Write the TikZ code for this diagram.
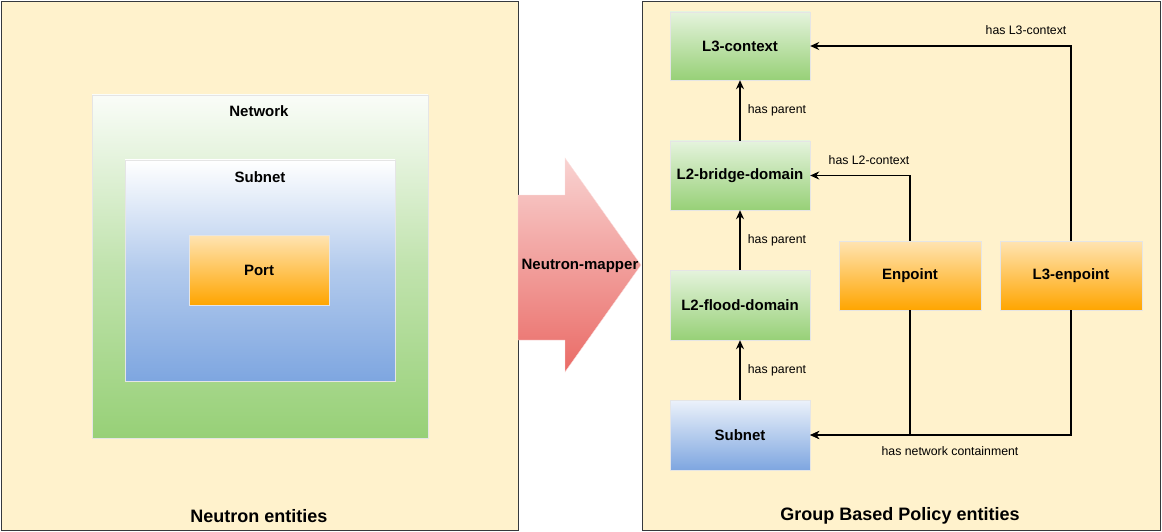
\documentclass[tikz,border=0pt]{standalone}
\usepackage{fontspec}
\setmainfont{Liberation Sans}
\usetikzlibrary{arrows.meta}
\definecolor{panel}{HTML}{FFF2CC}
\definecolor{pborder}{HTML}{36393D}
\definecolor{gr}{HTML}{97D077}
\definecolor{bl}{HTML}{7EA6E0}
\definecolor{org}{HTML}{FFA500}
\definecolor{rd}{HTML}{EA6B66}
\begin{document}
\begin{tikzpicture}[x=1pt,y=-1pt,
  panelbox/.style={draw=pborder,fill=panel,line width=0.8pt},
  greenbox/.style={draw=white!80!gray,top color=white!75!gr,bottom color=gr,font=\bfseries\fontsize{15}{17}\selectfont},
  bluebox/.style={draw=white!80!gray,top color=white!85!bl,bottom color=bl,font=\bfseries\fontsize{15}{17}\selectfont},
  orangebox/.style={draw=white!80!gray,top color=white!70!org,bottom color=org,font=\bfseries\fontsize{15}{17}\selectfont},
  conn/.style={line width=1.8pt,-{Stealth[length=9pt,width=8pt]}},
  lbl/.style={font=\fontsize{12.3}{14}\selectfont,inner sep=1pt},
  ttl/.style={font=\bfseries\fontsize{15}{17}\selectfont}]
\useasboundingbox (0,0) rectangle (1162,532);
\draw[panelbox] (1,1) rectangle (518,530);
\draw[panelbox] (642,1) rectangle (1160,530);
% left nested boxes
\draw[draw=white!80!gray,top color=white!95!gr,bottom color=gr,middle color=white!40!gr] (92,95) rectangle (428,438);
\draw[draw=white!80!gray,top color=white,bottom color=bl,middle color=white!40!bl] (125,160) rectangle (395,381);
\node[orangebox,minimum width=140pt,minimum height=70pt] (port) at (259,270) {Port};
\node[ttl] (netl) at (259,111) {Network};
\node[ttl] (subl) at (260,177) {Subnet};
\node[font=\bfseries\fontsize{18}{20}\selectfont] (ne) at (259,516) {Neutron entities};
% block arrow
\draw[draw=white!80!rd,top color=white!70!rd,bottom color=rd]
  (518,195) -- (565,195) -- (565,158) -- (641,265) -- (565,372) -- (565,340) -- (518,340) -- cycle;
\node[ttl] (nm) at (580,266) {Neutron-mapper};
% right boxes
\node[greenbox,minimum width=140pt,minimum height=68pt] (l3) at (740,46) {L3-context};
\node[greenbox,minimum width=140pt,minimum height=69pt] (l2b) at (740,175.5) {L2-bridge-domain};
\node[greenbox,minimum width=140pt,minimum height=70pt] (l2f) at (740,305) {L2-flood-domain};
\node[bluebox,minimum width=140pt,minimum height=70pt] (sn) at (740,435) {Subnet};
\node[orangebox,minimum width=142pt,minimum height=69pt] (ep) at (910,275.5) {Enpoint};
\node[orangebox,minimum width=142pt,minimum height=69pt] (l3ep) at (1071,275.5) {L3-enpoint};
\node[font=\bfseries\fontsize{18}{20}\selectfont] (gbp) at (900,516) {Group Based Policy entities};
% connectors
\draw[conn] (l2b.north) -- (l3.south) node[lbl,midway,right=6pt] {has parent};
\draw[conn] (l2f.north) -- (l2b.south) node[lbl,midway,right=6pt] {has parent};
\draw[conn] (sn.north) -- (l2f.south) node[lbl,midway,right=6pt] {has parent};
\draw[conn] (ep.north) |- (l2b.east);
\node[lbl] (hl2) at (869,160) {has L2-context};
\draw[conn] (l3ep.north) |- (l3.east);
\node[lbl] (hl3) at (1026,30) {has L3-context};
\draw[conn] (ep.south) |- (sn.east);
\draw[conn] (l3ep.south) |- (sn.east);
\node[lbl] (hnc) at (950,451) {has network containment};
\end{tikzpicture}
\end{document}
